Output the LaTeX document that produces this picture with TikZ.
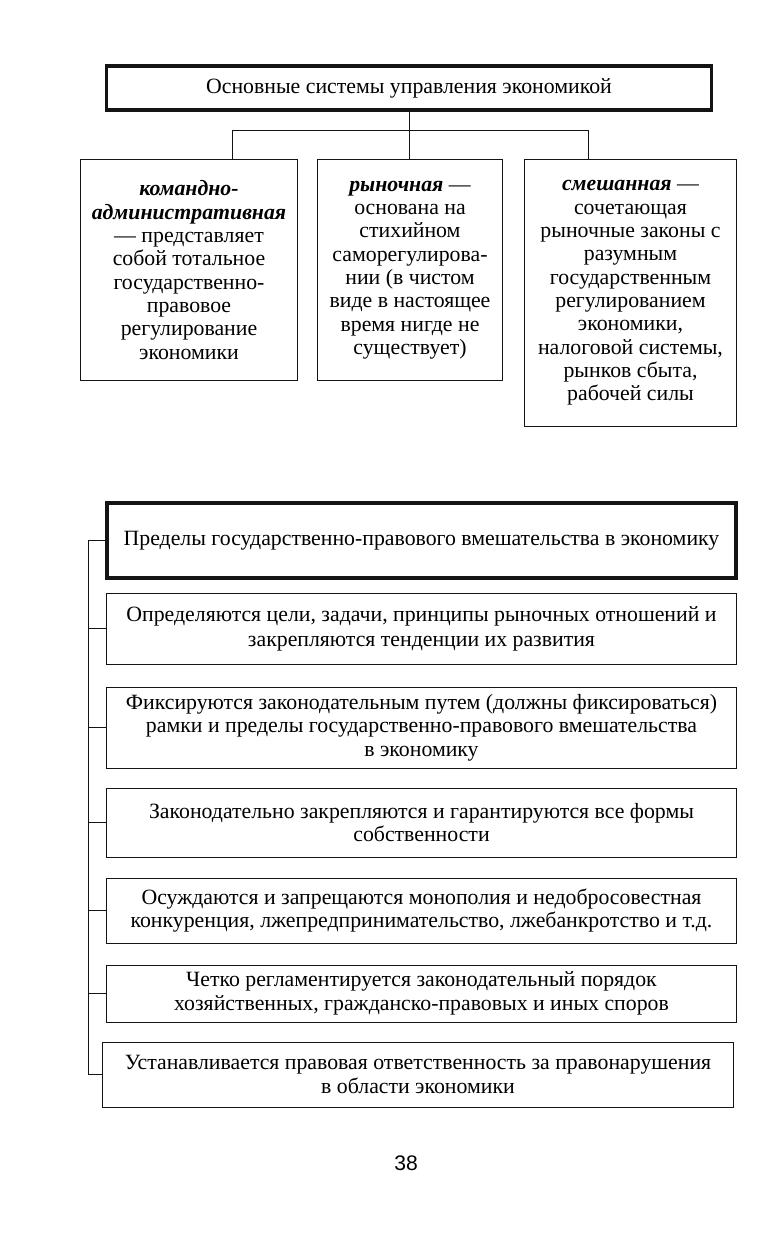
\documentclass[tikz,border=0pt]{standalone}
\usepackage{fontspec}
\setmainfont{Liberation Serif}
\newfontfamily\pagefont{Liberation Sans}
\usepackage{xcolor}
\usepackage{tikz}
\usetikzlibrary{positioning,calc}
\definecolor{scanink}{RGB}{20, 20, 20}
\tikzset{
    sysbox/.style={draw=scanink, line width=0.7pt, rectangle, align=center, inner sep=0pt, outer sep=0pt, font=\fontsize{15.5}{16.6}\selectfont},
    headbox/.style={sysbox, line width=2.2pt},
    limbox/.style={sysbox, minimum width=15.725cm},
    link/.style={draw=scanink, line width=0.7pt}
}

\begin{document}
\begin{tikzpicture}[x=0.025cm, y=-0.025cm]
    \useasboundingbox (0,0) rectangle (768,1241);
    % Systems of economic management
    \node [headbox, minimum width=15.1cm, minimum height=1.1cm] (title) at (409,88) {Основные системы управления экономикой};
    \node [sysbox, minimum width=5.4cm, minimum height=5.5cm] (command) at (189,270) {\textbf{\textit{командно-}}\\\textbf{\textit{административная}}\\— представляет\\собой тотальное\\государственно-\\правовое\\регулирование\\экономики};
    \node [sysbox, minimum width=4.6cm, minimum height=5.5cm] (market) at (410,270) {\textbf{\textit{рыночная}} —\\основана на\\стихийном\\саморегулирова-\\нии (в чистом\\виде в настоящее\\время нигде не\\существует)};
    \node [sysbox, minimum width=5.275cm, minimum height=6.65cm] (mixed) at (630.5,293) {\textbf{\textit{смешанная}} —\\сочетающая\\рыночные законы с\\разумным\\государственным\\регулированием\\экономики,\\налоговой системы,\\рынков сбыта,\\рабочей силы};

    % Tree links
    \coordinate (busl) at (232,130);
    \coordinate (busr) at (588,130);
    \draw [link] (title.south) -- (title.south |- market.north);
    \draw [link] (busl) -- (busr);
    \draw [link] (busl) -- (busl |- command.north);
    \draw [link] (busr) -- (busr |- mixed.north);

    % Limits of state intervention
    \node [headbox, line width=2.8pt, minimum width=15.725cm, minimum height=1.875cm] (limits) at (421.5,540.5) {Пределы государственно-правового вмешательства в экономику};
    \node [limbox, minimum height=1.775cm] (lim1) at (421.5,628.5) {Определяются цели, задачи, принципы рыночных отношений и\\[1pt]закрепляются тенденции их развития};
    \node [limbox, minimum height=2.025cm] (lim2) at (421.5,727.5) {Фиксируются законодательным путем (должны фиксироваться)\\рамки и пределы государственно-правового вмешательства\\в экономику};
    \node [limbox, minimum height=1.725cm] (lim3) at (421.5,822.5) {Законодательно закрепляются и гарантируются все формы\\собственности};
    \node [limbox, minimum height=1.625cm] (lim4) at (421.5,910.5) {Осуждаются и запрещаются монополия и недобросовестная\\конкуренция, лжепредпринимательство, лжебанкротство и т.д.};
    \node [limbox, minimum height=1.425cm] (lim5) at (421.5,993.5) {Четко регламентируется законодательный порядок\\хозяйственных, гражданско-правовых и иных споров};
    \node [limbox, minimum width=15.75cm, minimum height=1.625cm] (lim6) at (418,1074.5) {Устанавливается правовая ответственность за правонарушения\\в области экономики};

    % Bracket on the left
    \coordinate (rail) at (88,0);
    \draw [link] (limits.west) -- (limits.west -| rail) -- (lim6.west -| rail) -- (lim6.west);
    \foreach \n in {lim1,lim2,lim3,lim4,lim5}
        \draw [link] (\n.west -| rail) -- (\n.west);

    \node [font=\pagefont\fontsize{15}{17}\selectfont] (page) at (406,1163) {38};
\end{tikzpicture}
\end{document}
